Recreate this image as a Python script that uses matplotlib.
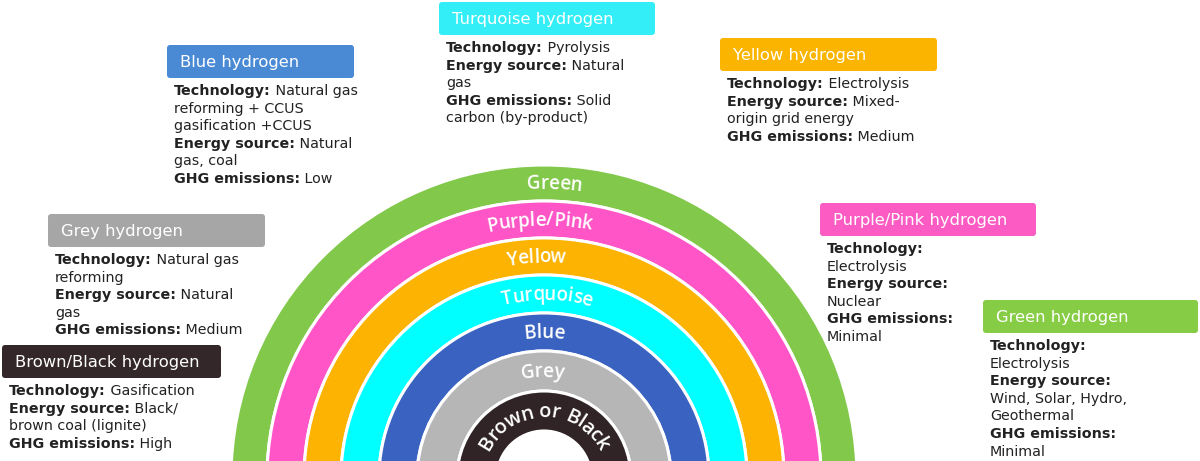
import matplotlib
matplotlib.use("Agg")
import matplotlib.pyplot as plt
from matplotlib.patches import Wedge, FancyBboxPatch
from matplotlib.font_manager import FontProperties
from matplotlib.textpath import TextToPath
import numpy as np

# ---- data ----
band_names = ["Green", "Purple/Pink", "Yellow", "Turquoise", "Blue", "Grey", "Brown or Black"]
band_colors = ["#82c84a", "#ff55c6", "#fdb302", "#00ffff", "#3a63c1", "#b6b6b6", "#302426"]
band_outer = [313, 277, 240, 203, 165, 127, 87]
band_inner = [277, 240, 203, 165, 127, 87, 47]
label_angle = [88, 91, 92, 89, 90, 91, 90]
label_size = [13.5, 13.5, 13.5, 13.5, 13.5, 13.5, 14.5]

box_titles = ["Blue hydrogen", "Turquoise hydrogen", "Yellow hydrogen", "Grey hydrogen",
              "Brown/Black hydrogen", "Purple/Pink hydrogen", "Green hydrogen"]
box_colors = ["#4a8ad4", "#33eef6", "#fbb400", "#a6a6a6", "#33272a", "#fc5bc4", "#86cc44"]
box_rects = [(167, 45, 187, 33), (439, 2, 216, 33), (720, 38, 217, 33), (48, 214, 217, 33),
             (2, 345, 219, 33), (820, 203, 216, 33), (983, 300, 215, 33)]
box_lines = [
    [("Technology:", " Natural gas"), ("", "reforming + CCUS"), ("", "gasification +CCUS"),
     ("Energy source:", " Natural"), ("", "gas, coal"), ("GHG emissions:", " Low")],
    [("Technology:", " Pyrolysis"), ("Energy source:", " Natural"), ("", "gas"),
     ("GHG emissions:", " Solid"), ("", "carbon (by-product)")],
    [("Technology:", " Electrolysis"), ("Energy source:", " Mixed-"), ("", "origin grid energy"),
     ("GHG emissions:", " Medium")],
    [("Technology:", " Natural gas"), ("", "reforming"), ("Energy source:", " Natural"), ("", "gas"),
     ("GHG emissions:", " Medium")],
    [("Technology:", " Gasification"), ("Energy source:", " Black/"), ("", "brown coal (lignite)"),
     ("GHG emissions:", " High")],
    [("Technology:", ""), ("", "Electrolysis"), ("Energy source:", ""), ("", "Nuclear"),
     ("GHG emissions:", ""), ("", "Minimal")],
    [("Technology:", ""), ("", "Electrolysis"), ("Energy source:", ""), ("", "Wind, Solar, Hydro,"),
     ("", "Geothermal"), ("GHG emissions:", ""), ("", "Minimal")],
]

W, H = 1200, 461
cx, cy = 544, 478

fig = plt.figure(figsize=(W / 100, H / 100), dpi=100)
ax = fig.add_axes([0, 0, 1, 1])
ax.set_xlim(0, W)
ax.set_ylim(H, 0)
ax.axis("off")

# rainbow
for ro, ri, col in zip(band_outer, band_inner, band_colors):
    ax.add_patch(Wedge((cx, cy), ro, 180, 360, width=ro - ri, facecolor=col,
                       edgecolor="white", linewidth=2.2))

# curved labels
t2p = TextToPath()
def curved(text, r, center_deg, size):
    fp = FontProperties(family="Open Sans", size=size, weight="semibold")
    widths = []
    for ch in text:
        w, h, d = t2p.get_text_width_height_descent(ch if ch != " " else "a", fp, ismath=False)
        if ch == " ":
            w *= 0.5
        widths.append(w * 100 / 72)
    total = sum(widths) / r
    ang = np.deg2rad(center_deg) + total / 2
    for ch, w in zip(text, widths):
        a = ang - (w / r) / 2
        x = cx + r * np.cos(a)
        y = cy - r * np.sin(a)
        ax.text(x, y, ch, fontproperties=fp, color="white", ha="center", va="center",
                rotation=np.rad2deg(a) - 90, rotation_mode="anchor")
        ang -= w / r

for name, ro, ri, a, s in zip(band_names, band_outer, band_inner, label_angle, label_size):
    curved(name, (ro + ri) / 2 - 1, a, s)

# boxes
fig.canvas.draw()
renderer = fig.canvas.get_renderer()
for title, col, (bx, by, bw, bh), lines in zip(box_titles, box_colors, box_rects, box_lines):
    ax.add_patch(FancyBboxPatch((bx + 3, by + 3), bw - 6, bh - 6,
                                boxstyle="round,pad=3", facecolor=col, edgecolor="none"))
    ax.text(bx + 13, by + bh / 2 + 1, title, color="white", fontsize=11.8,
            family="DejaVu Sans", ha="left", va="center")
    y = by + bh + 13
    for bold, reg in lines:
        x = bx + 7
        if bold:
            t = ax.text(x, y, bold, fontsize=10.3, fontweight="bold", color="#222222",
                        family="DejaVu Sans", ha="left", va="center")
            bb = t.get_window_extent(renderer)
            x = x + bb.width
        if reg:
            ax.text(x, y, reg, fontsize=10.3, color="#222222", family="DejaVu Sans",
                    ha="left", va="center")
        y += 17.6

fig.savefig("out.png", dpi=100, facecolor="white")
